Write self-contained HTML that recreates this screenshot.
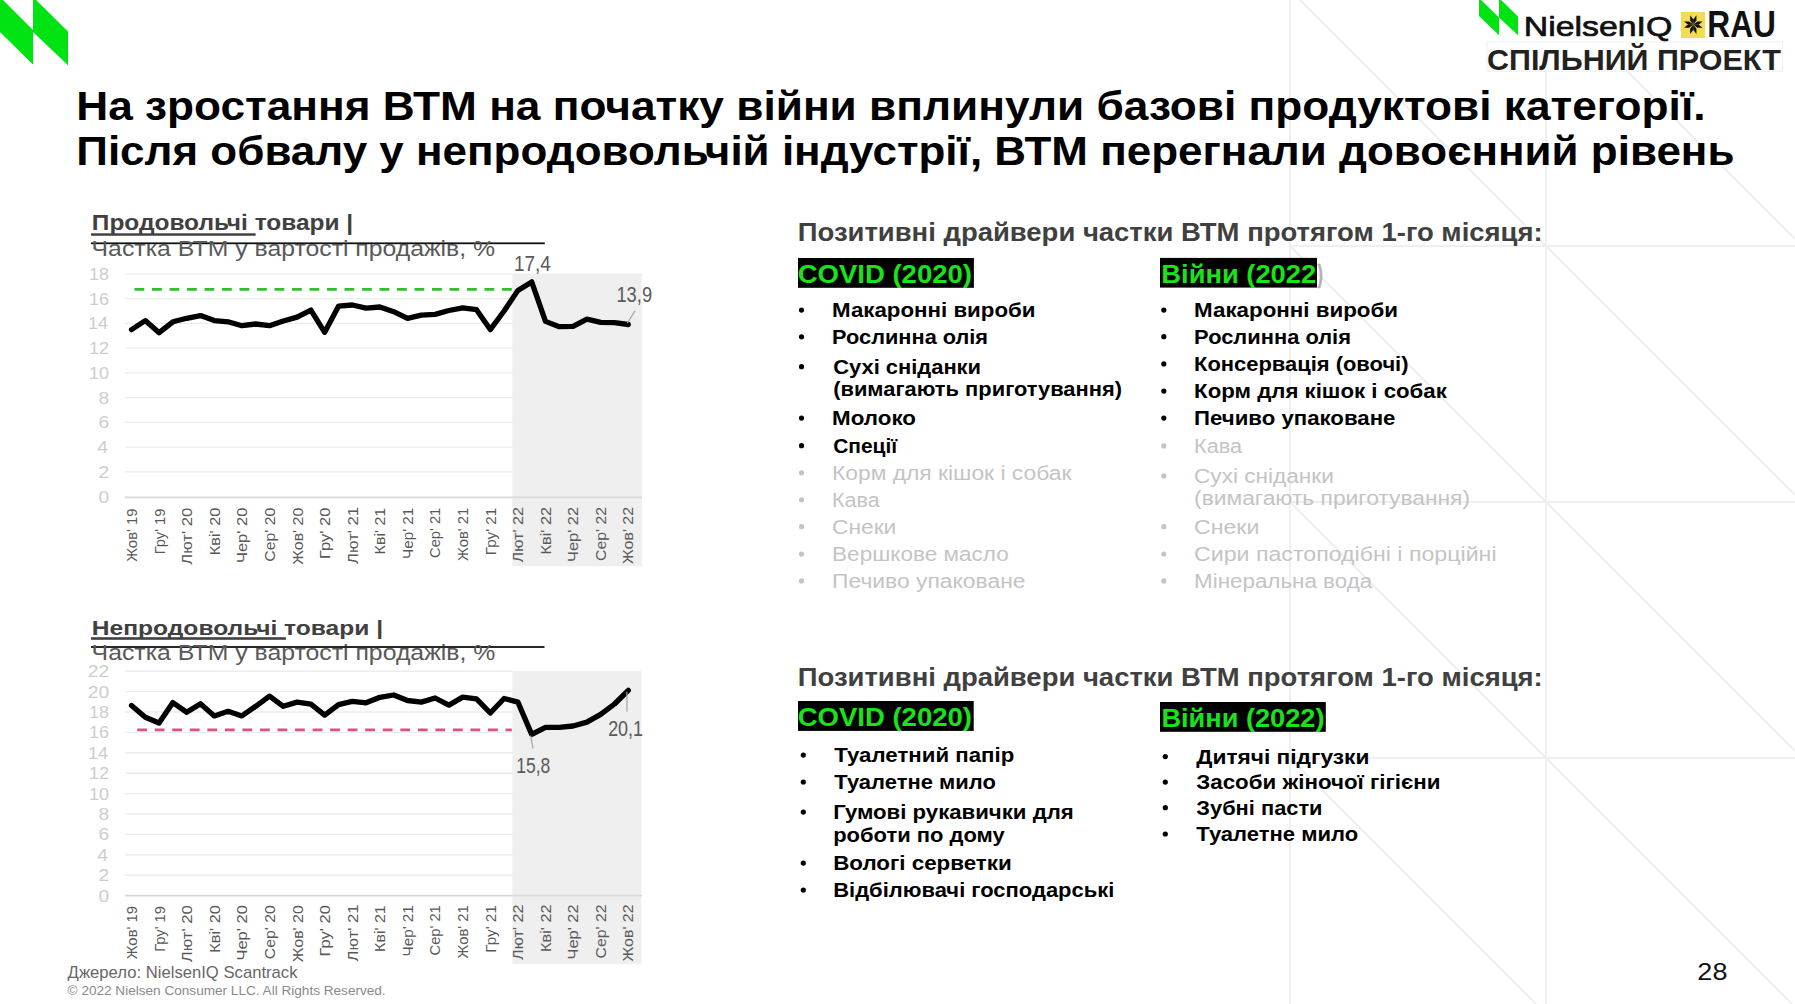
<!DOCTYPE html>
<html><head><meta charset="utf-8"><style>
html,body{margin:0;padding:0;background:#fff;}
body{width:1795px;height:1004px;overflow:hidden;position:relative;font-family:"Liberation Sans",sans-serif;}
svg{position:absolute;left:0;top:0;}
text{font-family:"Liberation Sans",sans-serif;}
</style></head><body>
<svg width="1795" height="1004" viewBox="0 0 1795 1004">
<line x1="1290" y1="0" x2="1290" y2="1004" stroke="#efefef" stroke-width="2"/><line x1="1546" y1="0" x2="1546" y2="1004" stroke="#efefef" stroke-width="2"/><line x1="1290" y1="246" x2="1795" y2="246" stroke="#efefef" stroke-width="2"/><line x1="1290" y1="502" x2="1795" y2="502" stroke="#efefef" stroke-width="2"/><line x1="1290" y1="758" x2="1795" y2="758" stroke="#efefef" stroke-width="2"/><line x1="1290" y1="-10" x2="1546" y2="246" stroke="#efefef" stroke-width="2"/><line x1="1290" y1="246" x2="1546" y2="502" stroke="#efefef" stroke-width="2"/><line x1="1290" y1="502" x2="1546" y2="758" stroke="#efefef" stroke-width="2"/><line x1="1290" y1="758" x2="1546" y2="1014" stroke="#efefef" stroke-width="2"/><line x1="1546" y1="-10" x2="1802" y2="246" stroke="#efefef" stroke-width="2"/><line x1="1546" y1="246" x2="1802" y2="502" stroke="#efefef" stroke-width="2"/><line x1="1546" y1="502" x2="1802" y2="758" stroke="#efefef" stroke-width="2"/><line x1="1546" y1="758" x2="1802" y2="1014" stroke="#efefef" stroke-width="2"/>
<rect x="1472" y="0" width="323" height="71" fill="#fff"/>
<rect x="1487" y="42" width="295.5" height="29.3" fill="#fff" stroke="#f0f0f0" stroke-width="1"/>
<polygon points="0,-3 33,30 33,64.5 0,32" fill="#00e312"/>
<polygon points="33,-3 68,31.5 68,65.3 33,32" fill="#00e312"/>
<polygon points="1479,-2 1499,17.5 1499,35.3 1479,16" fill="#00e312"/>
<polygon points="1499,-2 1518,16.5 1518,35.3 1499,17.5" fill="#00e312"/>
<rect x="1681" y="11.8" width="24" height="26.2" fill="#f3dc55"/>
<g transform="translate(1693.3,24.6)" fill="#111"><polygon points="0,0 3.17,-4.11 3.11,-9.29 -0.06,-5.19"/><polygon points="0,0 0.06,-5.19 -3.11,-9.29 -3.17,-4.11"/><polygon points="0,0 -3.17,4.11 -3.11,9.29 0.06,5.19"/><polygon points="0,0 -0.06,5.19 3.11,9.29 3.17,4.11"/><polygon points="0,0 4.11,3.17 9.29,3.11 5.19,-0.06"/><polygon points="0,0 5.19,0.06 9.29,-3.11 4.11,-3.17"/><polygon points="0,0 -4.11,-3.17 -9.29,-3.11 -5.19,0.06"/><polygon points="0,0 -5.19,-0.06 -9.29,3.11 -4.11,3.17"/></g>
<rect x="512.3" y="273.4" width="129.5" height="292.8" fill="#efefef"/>
<rect x="512.3" y="671" width="129" height="293" fill="#efefef"/>
<line x1="125" y1="497.40" x2="642" y2="497.40" stroke="#d9d9d9" stroke-width="1.8"/><line x1="125" y1="471.85" x2="512.3" y2="471.85" stroke="#ececec" stroke-width="1.4"/><line x1="125" y1="447.10" x2="512.3" y2="447.10" stroke="#ececec" stroke-width="1.4"/><line x1="125" y1="422.35" x2="512.3" y2="422.35" stroke="#ececec" stroke-width="1.4"/><line x1="125" y1="397.60" x2="512.3" y2="397.60" stroke="#ececec" stroke-width="1.4"/><line x1="125" y1="372.85" x2="512.3" y2="372.85" stroke="#ececec" stroke-width="1.4"/><line x1="125" y1="348.10" x2="512.3" y2="348.10" stroke="#ececec" stroke-width="1.4"/><line x1="125" y1="323.35" x2="512.3" y2="323.35" stroke="#ececec" stroke-width="1.4"/><line x1="125" y1="298.60" x2="512.3" y2="298.60" stroke="#ececec" stroke-width="1.4"/><line x1="125" y1="273.85" x2="512.3" y2="273.85" stroke="#ececec" stroke-width="1.4"/>
<line x1="125" y1="895.60" x2="642" y2="895.60" stroke="#d9d9d9" stroke-width="1.8"/><line x1="125" y1="875.20" x2="512.3" y2="875.20" stroke="#ececec" stroke-width="1.4"/><line x1="125" y1="854.80" x2="512.3" y2="854.80" stroke="#ececec" stroke-width="1.4"/><line x1="125" y1="834.40" x2="512.3" y2="834.40" stroke="#ececec" stroke-width="1.4"/><line x1="125" y1="814.00" x2="512.3" y2="814.00" stroke="#ececec" stroke-width="1.4"/><line x1="125" y1="793.60" x2="512.3" y2="793.60" stroke="#ececec" stroke-width="1.4"/><line x1="125" y1="773.20" x2="512.3" y2="773.20" stroke="#ececec" stroke-width="1.4"/><line x1="125" y1="752.80" x2="512.3" y2="752.80" stroke="#ececec" stroke-width="1.4"/><line x1="125" y1="732.40" x2="512.3" y2="732.40" stroke="#ececec" stroke-width="1.4"/><line x1="125" y1="712.00" x2="512.3" y2="712.00" stroke="#ececec" stroke-width="1.4"/><line x1="125" y1="691.60" x2="512.3" y2="691.60" stroke="#ececec" stroke-width="1.4"/><line x1="125" y1="671.20" x2="512.3" y2="671.20" stroke="#ececec" stroke-width="1.4"/>
<line x1="134.5" y1="289.4" x2="511.9" y2="289.4" stroke="#2fbf2f" stroke-width="2.6" stroke-dasharray="9.8 7.70"/>
<line x1="137.2" y1="729.9" x2="511.8" y2="729.9" stroke="#d9508a" stroke-width="2.6" stroke-dasharray="9.8 7.74"/>
<polyline points="131.5,329.6 145.3,320.6 159.1,332.7 172.9,321.8 186.7,318.3 200.5,315.6 214.3,320.6 228.1,321.8 241.9,325.7 255.7,324.0 269.5,325.7 283.3,321.0 297.1,317.1 310.9,310.1 324.7,332.3 338.5,306.2 352.3,305.0 366.1,308.2 379.9,307.0 393.7,311.7 407.5,318.3 421.3,315.2 435.1,314.4 448.9,310.5 462.7,307.8 476.5,309.7 490.3,329.6 504.1,311.0 517.9,290.4 531.7,281.9 545.5,321.4 559.3,326.7 573.1,326.3 586.9,319.1 600.7,322.3 614.5,322.7 628.3,324.5" fill="none" stroke="#000" stroke-width="5.3" stroke-linejoin="round" stroke-linecap="round"/>
<polyline points="131.5,705.5 145.3,717.2 159.1,723.0 172.9,702.6 186.7,712.2 200.5,703.8 214.3,715.9 228.1,711.3 241.9,715.9 255.7,706.3 269.5,696.1 283.3,706.3 297.1,702.1 310.9,704.2 324.7,715.1 338.5,704.6 352.3,701.3 366.1,702.8 379.9,697.3 393.7,695.0 407.5,700.5 421.3,702.1 435.1,698.0 448.9,705.1 462.7,697.1 476.5,698.8 490.3,713.0 504.1,698.5 517.9,702.1 531.7,734.4 545.5,727.3 559.3,727.3 573.1,726.0 586.9,722.1 600.7,714.4 614.5,704.0 628.3,690.4" fill="none" stroke="#000" stroke-width="5.3" stroke-linejoin="round" stroke-linecap="round"/>
<line x1="627.4" y1="323" x2="635" y2="310.9" stroke="#a6a6a6" stroke-width="1.2"/>
<line x1="530.7" y1="735.7" x2="533" y2="748.7" stroke="#a6a6a6" stroke-width="1.2"/>
<line x1="626.9" y1="691.7" x2="626.9" y2="711.8" stroke="#a6a6a6" stroke-width="1.2"/>
<rect x="91" y="233.3" width="164.6" height="2.45" fill="#404040"/>
<rect x="91" y="242.4" width="453.8" height="1.8" fill="#111"/>
<rect x="91" y="637.2" width="194.9" height="2.6" fill="#404040"/>
<rect x="91" y="646.1" width="453.5" height="1.8" fill="#111"/>
<rect x="798" y="258" width="175.9" height="29.8" fill="#000"/>
<rect x="1160" y="257.9" width="157" height="29.7" fill="#000"/>
<rect x="798" y="701" width="175.7" height="29.9" fill="#000"/>
<rect x="1160" y="702" width="165.8" height="29.8" fill="#000"/>
<circle cx="801.5" cy="310.1" r="2.6" fill="#000"/><circle cx="801.5" cy="336.8" r="2.6" fill="#000"/><circle cx="801.5" cy="366.7" r="2.6" fill="#000"/><circle cx="801.5" cy="418.1" r="2.6" fill="#000"/><circle cx="801.5" cy="445.7" r="2.6" fill="#000"/><circle cx="801.5" cy="472.8" r="2.6" fill="#c4c4c4"/><circle cx="801.5" cy="499.8" r="2.6" fill="#c4c4c4"/><circle cx="801.5" cy="526.7" r="2.6" fill="#c4c4c4"/><circle cx="801.5" cy="554.1" r="2.6" fill="#c4c4c4"/><circle cx="801.5" cy="580.9" r="2.6" fill="#c4c4c4"/><circle cx="1163.8" cy="310.1" r="2.6" fill="#000"/><circle cx="1163.8" cy="336.7" r="2.6" fill="#000"/><circle cx="1163.8" cy="363.9" r="2.6" fill="#000"/><circle cx="1163.8" cy="391.1" r="2.6" fill="#000"/><circle cx="1163.8" cy="418.1" r="2.6" fill="#000"/><circle cx="1163.8" cy="445.9" r="2.6" fill="#c4c4c4"/><circle cx="1163.8" cy="475.9" r="2.6" fill="#c4c4c4"/><circle cx="1163.8" cy="526.7" r="2.6" fill="#c4c4c4"/><circle cx="1163.8" cy="554.0" r="2.6" fill="#c4c4c4"/><circle cx="1163.8" cy="580.9" r="2.6" fill="#c4c4c4"/><circle cx="803.3" cy="755.1" r="2.6" fill="#000"/><circle cx="803.3" cy="782.0" r="2.6" fill="#000"/><circle cx="803.3" cy="812.1" r="2.6" fill="#000"/><circle cx="803.3" cy="863.1" r="2.6" fill="#000"/><circle cx="803.3" cy="890.1" r="2.6" fill="#000"/><circle cx="1165.3" cy="756.6" r="2.6" fill="#000"/><circle cx="1165.3" cy="782.1" r="2.6" fill="#000"/><circle cx="1165.3" cy="807.7" r="2.6" fill="#000"/><circle cx="1165.3" cy="834.0" r="2.6" fill="#000"/>
<text x="76.26" y="120.10" font-size="41.28" font-weight="bold" fill="#000" textLength="1629.38" lengthAdjust="spacingAndGlyphs">На зростання ВТМ на початку війни вплинули базові продуктові категорії.</text><text x="76.27" y="165.20" font-size="41.28" font-weight="bold" fill="#000" textLength="1658.19" lengthAdjust="spacingAndGlyphs">Після обвалу у непродовольчій індустрії, ВТМ перегнали довоєнний рівень</text><text x="91.80" y="229.80" font-size="21.22" font-weight="bold" fill="#404040" textLength="261.38" lengthAdjust="spacingAndGlyphs">Продовольчі товари |</text><text x="91.61" y="255.80" font-size="22.82" font-weight="normal" fill="#595959" textLength="403.49" lengthAdjust="spacingAndGlyphs">Частка ВТМ у вартості продажів, %</text><text x="91.78" y="634.70" font-size="21.08" font-weight="bold" fill="#404040" textLength="291.36" lengthAdjust="spacingAndGlyphs">Непродовольчі товари |</text><text x="91.61" y="659.70" font-size="22.82" font-weight="normal" fill="#595959" textLength="403.60" lengthAdjust="spacingAndGlyphs">Частка ВТМ у вартості продажів, %</text><text x="797.74" y="240.90" font-size="26.02" font-weight="bold" fill="#404040" textLength="744.91" lengthAdjust="spacingAndGlyphs">Позитивні драйвери частки ВТМ протягом 1-го місяця:</text><text x="797.74" y="685.90" font-size="26.02" font-weight="bold" fill="#404040" textLength="745.01" lengthAdjust="spacingAndGlyphs">Позитивні драйвери частки ВТМ протягом 1-го місяця:</text><text x="797.74" y="282.80" font-size="25.87" font-weight="bold" fill="#19e319" textLength="174.21" lengthAdjust="spacingAndGlyphs">COVID (2020)</text><text x="1161.39" y="282.90" font-size="25.73" font-weight="bold" fill="#19e319" textLength="154.83" lengthAdjust="spacingAndGlyphs">Війни (2022</text><text x="1317.80" y="282.90" font-size="25.73" font-weight="bold" fill="#b0b0b8" stroke="#b0b0b8" stroke-width="0.7" textLength="5.03" lengthAdjust="spacingAndGlyphs">)</text><text x="797.74" y="725.80" font-size="25.87" font-weight="bold" fill="#19e319" textLength="174.21" lengthAdjust="spacingAndGlyphs">COVID (2020)</text><text x="1161.40" y="727.10" font-size="26.02" font-weight="bold" fill="#19e319" textLength="163.08" lengthAdjust="spacingAndGlyphs">Війни (2022)</text><text x="832.07" y="317.00" font-size="19.77" font-weight="bold" fill="#000" textLength="203.42" lengthAdjust="spacingAndGlyphs">Макаронні вироби</text><text x="832.10" y="343.70" font-size="19.77" font-weight="bold" fill="#000" textLength="155.98" lengthAdjust="spacingAndGlyphs">Рослинна олія</text><text x="833.20" y="373.60" font-size="19.77" font-weight="bold" fill="#000" textLength="147.87" lengthAdjust="spacingAndGlyphs">Сухі сніданки</text><text x="833.20" y="396.40" font-size="19.77" font-weight="bold" fill="#000" textLength="288.84" lengthAdjust="spacingAndGlyphs">(вимагають приготування)</text><text x="832.07" y="425.00" font-size="19.77" font-weight="bold" fill="#000" textLength="83.91" lengthAdjust="spacingAndGlyphs">Молоко</text><text x="833.20" y="452.60" font-size="19.77" font-weight="bold" fill="#000" textLength="64.03" lengthAdjust="spacingAndGlyphs">Спеції</text><text x="832.04" y="479.70" font-size="19.77" font-weight="normal" fill="#c4c4c4" textLength="239.34" lengthAdjust="spacingAndGlyphs">Корм для кішок і собак</text><text x="832.11" y="506.70" font-size="19.77" font-weight="normal" fill="#c4c4c4" textLength="47.47" lengthAdjust="spacingAndGlyphs">Кава</text><text x="832.05" y="533.60" font-size="19.77" font-weight="normal" fill="#c4c4c4" textLength="64.24" lengthAdjust="spacingAndGlyphs">Снеки</text><text x="832.06" y="561.00" font-size="19.77" font-weight="normal" fill="#c4c4c4" textLength="176.72" lengthAdjust="spacingAndGlyphs">Вершкове масло</text><text x="832.04" y="587.80" font-size="19.77" font-weight="normal" fill="#c4c4c4" textLength="193.44" lengthAdjust="spacingAndGlyphs">Печиво упаковане</text><text x="1194.07" y="317.00" font-size="19.77" font-weight="bold" fill="#000" textLength="204.02" lengthAdjust="spacingAndGlyphs">Макаронні вироби</text><text x="1194.09" y="343.60" font-size="19.77" font-weight="bold" fill="#000" textLength="156.89" lengthAdjust="spacingAndGlyphs">Рослинна олія</text><text x="1194.09" y="370.80" font-size="19.77" font-weight="bold" fill="#000" textLength="214.45" lengthAdjust="spacingAndGlyphs">Консервація (овочі)</text><text x="1194.07" y="398.00" font-size="19.77" font-weight="bold" fill="#000" textLength="252.80" lengthAdjust="spacingAndGlyphs">Корм для кішок і собак</text><text x="1194.08" y="425.00" font-size="19.77" font-weight="bold" fill="#000" textLength="201.31" lengthAdjust="spacingAndGlyphs">Печиво упаковане</text><text x="1194.11" y="452.80" font-size="19.77" font-weight="normal" fill="#c4c4c4" textLength="47.88" lengthAdjust="spacingAndGlyphs">Кава</text><text x="1194.06" y="482.80" font-size="19.77" font-weight="normal" fill="#c4c4c4" textLength="139.72" lengthAdjust="spacingAndGlyphs">Сухі сніданки</text><text x="1194.05" y="504.60" font-size="19.77" font-weight="normal" fill="#c4c4c4" textLength="276.02" lengthAdjust="spacingAndGlyphs">(вимагають приготування)</text><text x="1194.03" y="533.60" font-size="19.77" font-weight="normal" fill="#c4c4c4" textLength="65.28" lengthAdjust="spacingAndGlyphs">Снеки</text><text x="1194.03" y="560.90" font-size="19.77" font-weight="normal" fill="#c4c4c4" textLength="302.53" lengthAdjust="spacingAndGlyphs">Сири пастоподібні і порційні</text><text x="1194.07" y="587.80" font-size="19.77" font-weight="normal" fill="#c4c4c4" textLength="178.11" lengthAdjust="spacingAndGlyphs">Мінеральна вода</text><text x="834.30" y="762.00" font-size="19.77" font-weight="bold" fill="#000" textLength="179.97" lengthAdjust="spacingAndGlyphs">Туалетний папір</text><text x="834.30" y="788.90" font-size="19.77" font-weight="bold" fill="#000" textLength="161.57" lengthAdjust="spacingAndGlyphs">Туалетне мило</text><text x="833.18" y="819.00" font-size="19.77" font-weight="bold" fill="#000" textLength="240.61" lengthAdjust="spacingAndGlyphs">Гумові рукавички для</text><text x="833.19" y="841.50" font-size="19.77" font-weight="bold" fill="#000" textLength="171.49" lengthAdjust="spacingAndGlyphs">роботи по дому</text><text x="833.17" y="870.00" font-size="19.77" font-weight="bold" fill="#000" textLength="178.63" lengthAdjust="spacingAndGlyphs">Вологі серветки</text><text x="833.19" y="897.00" font-size="19.77" font-weight="bold" fill="#000" textLength="281.15" lengthAdjust="spacingAndGlyphs">Відбілювачі господарські</text><text x="1196.30" y="763.50" font-size="19.77" font-weight="bold" fill="#000" textLength="173.11" lengthAdjust="spacingAndGlyphs">Дитячі підгузки</text><text x="1196.30" y="789.00" font-size="19.77" font-weight="bold" fill="#000" textLength="244.19" lengthAdjust="spacingAndGlyphs">Засоби жіночої гігієни</text><text x="1196.30" y="814.60" font-size="19.77" font-weight="bold" fill="#000" textLength="126.26" lengthAdjust="spacingAndGlyphs">Зубні пасти</text><text x="1196.30" y="840.90" font-size="19.77" font-weight="bold" fill="#000" textLength="161.87" lengthAdjust="spacingAndGlyphs">Туалетне мило</text><text x="67.60" y="978.10" font-size="15.70" font-weight="normal" fill="#676767" textLength="229.93" lengthAdjust="spacingAndGlyphs">Джерело: NielsenIQ Scantrack</text><text x="67.60" y="995.20" font-size="13.52" font-weight="normal" fill="#8a8a8a" textLength="318.05" lengthAdjust="spacingAndGlyphs">© 2022 Nielsen Consumer LLC. All Rights Reserved.</text><text x="1697.38" y="979.70" font-size="24.13" font-weight="normal" fill="#111" textLength="30.08" lengthAdjust="spacingAndGlyphs">28</text><text x="1523.82" y="36.10" font-size="28.49" font-weight="normal" fill="#111" stroke="#111" stroke-width="0.7" textLength="148.54" lengthAdjust="spacingAndGlyphs">NielsenIQ</text><text x="1707.28" y="37.40" font-size="36.92" font-weight="bold" fill="#111" textLength="68.64" lengthAdjust="spacingAndGlyphs">RAU</text><text x="1487.00" y="69.50" font-size="30.38" font-weight="bold" fill="#222" textLength="293.75" lengthAdjust="spacingAndGlyphs">СПІЛЬНИЙ ПРОЕКТ</text><text x="513.92" y="270.90" font-size="21.51" font-weight="normal" fill="#595959" textLength="36.74" lengthAdjust="spacingAndGlyphs">17,4</text><text x="616.44" y="301.60" font-size="21.22" font-weight="normal" fill="#595959" textLength="35.65" lengthAdjust="spacingAndGlyphs">13,9</text><text x="516.27" y="772.60" font-size="21.22" font-weight="normal" fill="#595959" textLength="34.09" lengthAdjust="spacingAndGlyphs">15,8</text><text x="608.15" y="735.90" font-size="21.22" font-weight="normal" fill="#595959" textLength="34.92" lengthAdjust="spacingAndGlyphs">20,1</text><text x="98.42" y="502.50" font-size="17.15" font-weight="normal" fill="#cdcdcd" textLength="10.68" lengthAdjust="spacingAndGlyphs">0</text><text x="98.42" y="477.75" font-size="17.15" font-weight="normal" fill="#cdcdcd" textLength="10.68" lengthAdjust="spacingAndGlyphs">2</text><text x="97.30" y="453.00" font-size="17.15" font-weight="normal" fill="#cdcdcd" textLength="10.68" lengthAdjust="spacingAndGlyphs">4</text><text x="98.42" y="428.25" font-size="17.15" font-weight="normal" fill="#cdcdcd" textLength="10.68" lengthAdjust="spacingAndGlyphs">6</text><text x="98.42" y="403.50" font-size="17.15" font-weight="normal" fill="#cdcdcd" textLength="10.68" lengthAdjust="spacingAndGlyphs">8</text><text x="89.04" y="378.75" font-size="17.15" font-weight="normal" fill="#cdcdcd" textLength="20.02" lengthAdjust="spacingAndGlyphs">10</text><text x="89.04" y="354.00" font-size="17.15" font-weight="normal" fill="#cdcdcd" textLength="20.02" lengthAdjust="spacingAndGlyphs">12</text><text x="87.99" y="329.25" font-size="17.15" font-weight="normal" fill="#cdcdcd" textLength="20.02" lengthAdjust="spacingAndGlyphs">14</text><text x="89.04" y="304.50" font-size="17.15" font-weight="normal" fill="#cdcdcd" textLength="20.02" lengthAdjust="spacingAndGlyphs">16</text><text x="89.04" y="279.75" font-size="17.15" font-weight="normal" fill="#cdcdcd" textLength="20.02" lengthAdjust="spacingAndGlyphs">18</text><text x="98.42" y="901.50" font-size="17.15" font-weight="normal" fill="#cdcdcd" textLength="10.68" lengthAdjust="spacingAndGlyphs">0</text><text x="98.42" y="881.10" font-size="17.15" font-weight="normal" fill="#cdcdcd" textLength="10.68" lengthAdjust="spacingAndGlyphs">2</text><text x="97.30" y="860.70" font-size="17.15" font-weight="normal" fill="#cdcdcd" textLength="10.68" lengthAdjust="spacingAndGlyphs">4</text><text x="98.42" y="840.30" font-size="17.15" font-weight="normal" fill="#cdcdcd" textLength="10.68" lengthAdjust="spacingAndGlyphs">6</text><text x="98.42" y="819.90" font-size="17.15" font-weight="normal" fill="#cdcdcd" textLength="10.68" lengthAdjust="spacingAndGlyphs">8</text><text x="89.04" y="799.50" font-size="17.15" font-weight="normal" fill="#cdcdcd" textLength="20.02" lengthAdjust="spacingAndGlyphs">10</text><text x="89.04" y="779.10" font-size="17.15" font-weight="normal" fill="#cdcdcd" textLength="20.02" lengthAdjust="spacingAndGlyphs">12</text><text x="87.99" y="758.70" font-size="17.15" font-weight="normal" fill="#cdcdcd" textLength="20.02" lengthAdjust="spacingAndGlyphs">14</text><text x="89.04" y="738.30" font-size="17.15" font-weight="normal" fill="#cdcdcd" textLength="20.02" lengthAdjust="spacingAndGlyphs">16</text><text x="89.04" y="717.90" font-size="17.15" font-weight="normal" fill="#cdcdcd" textLength="20.02" lengthAdjust="spacingAndGlyphs">18</text><text x="87.74" y="697.50" font-size="17.15" font-weight="normal" fill="#cdcdcd" textLength="21.35" lengthAdjust="spacingAndGlyphs">20</text><text x="87.74" y="677.10" font-size="17.15" font-weight="normal" fill="#cdcdcd" textLength="21.35" lengthAdjust="spacingAndGlyphs">22</text>
<text transform="translate(137.20,561.70) rotate(-90)" font-size="15.41" fill="#595959" textLength="53.24" lengthAdjust="spacingAndGlyphs">Жов' 19</text><text transform="translate(164.77,554.36) rotate(-90)" font-size="15.41" fill="#595959" textLength="45.89" lengthAdjust="spacingAndGlyphs">Гру' 19</text><text transform="translate(192.34,564.70) rotate(-90)" font-size="15.41" fill="#595959" textLength="57.01" lengthAdjust="spacingAndGlyphs">Лют' 20</text><text transform="translate(219.91,555.26) rotate(-90)" font-size="15.41" fill="#595959" textLength="47.55" lengthAdjust="spacingAndGlyphs">Кві' 20</text><text transform="translate(247.48,563.07) rotate(-90)" font-size="15.41" fill="#595959" textLength="55.37" lengthAdjust="spacingAndGlyphs">Чер' 20</text><text transform="translate(275.05,561.70) rotate(-90)" font-size="15.41" fill="#595959" textLength="53.97" lengthAdjust="spacingAndGlyphs">Сер' 20</text><text transform="translate(302.62,564.70) rotate(-90)" font-size="15.41" fill="#595959" textLength="56.98" lengthAdjust="spacingAndGlyphs">Жов' 20</text><text transform="translate(330.19,558.97) rotate(-90)" font-size="15.41" fill="#595959" textLength="51.27" lengthAdjust="spacingAndGlyphs">Гру' 20</text><text transform="translate(357.76,563.90) rotate(-90)" font-size="15.41" fill="#595959" textLength="57.01" lengthAdjust="spacingAndGlyphs">Лют' 21</text><text transform="translate(385.33,554.44) rotate(-90)" font-size="15.41" fill="#595959" textLength="46.72" lengthAdjust="spacingAndGlyphs">Кві' 21</text><text transform="translate(412.90,558.89) rotate(-90)" font-size="15.41" fill="#595959" textLength="51.14" lengthAdjust="spacingAndGlyphs">Чер' 21</text><text transform="translate(440.47,557.90) rotate(-90)" font-size="15.41" fill="#595959" textLength="50.13" lengthAdjust="spacingAndGlyphs">Сер' 21</text><text transform="translate(468.04,560.90) rotate(-90)" font-size="15.41" fill="#595959" textLength="53.14" lengthAdjust="spacingAndGlyphs">Жов' 21</text><text transform="translate(495.61,555.19) rotate(-90)" font-size="15.41" fill="#595959" textLength="47.45" lengthAdjust="spacingAndGlyphs">Гру' 21</text><text transform="translate(523.18,562.40) rotate(-90)" font-size="15.41" fill="#595959" textLength="55.49" lengthAdjust="spacingAndGlyphs">Лют' 22</text><text transform="translate(550.75,554.46) rotate(-90)" font-size="15.41" fill="#595959" textLength="47.55" lengthAdjust="spacingAndGlyphs">Кві' 22</text><text transform="translate(578.32,561.96) rotate(-90)" font-size="15.41" fill="#595959" textLength="55.06" lengthAdjust="spacingAndGlyphs">Чер' 22</text><text transform="translate(605.89,560.90) rotate(-90)" font-size="15.41" fill="#595959" textLength="53.97" lengthAdjust="spacingAndGlyphs">Сер' 22</text><text transform="translate(633.46,563.90) rotate(-90)" font-size="15.41" fill="#595959" textLength="56.98" lengthAdjust="spacingAndGlyphs">Жов' 22</text><text transform="translate(137.20,959.20) rotate(-90)" font-size="15.41" fill="#595959" textLength="53.24" lengthAdjust="spacingAndGlyphs">Жов' 19</text><text transform="translate(164.77,951.86) rotate(-90)" font-size="15.41" fill="#595959" textLength="45.89" lengthAdjust="spacingAndGlyphs">Гру' 19</text><text transform="translate(192.34,962.20) rotate(-90)" font-size="15.41" fill="#595959" textLength="57.01" lengthAdjust="spacingAndGlyphs">Лют' 20</text><text transform="translate(219.91,952.76) rotate(-90)" font-size="15.41" fill="#595959" textLength="47.55" lengthAdjust="spacingAndGlyphs">Кві' 20</text><text transform="translate(247.48,960.57) rotate(-90)" font-size="15.41" fill="#595959" textLength="55.37" lengthAdjust="spacingAndGlyphs">Чер' 20</text><text transform="translate(275.05,959.20) rotate(-90)" font-size="15.41" fill="#595959" textLength="53.97" lengthAdjust="spacingAndGlyphs">Сер' 20</text><text transform="translate(302.62,962.20) rotate(-90)" font-size="15.41" fill="#595959" textLength="56.98" lengthAdjust="spacingAndGlyphs">Жов' 20</text><text transform="translate(330.19,956.47) rotate(-90)" font-size="15.41" fill="#595959" textLength="51.27" lengthAdjust="spacingAndGlyphs">Гру' 20</text><text transform="translate(357.76,961.40) rotate(-90)" font-size="15.41" fill="#595959" textLength="57.01" lengthAdjust="spacingAndGlyphs">Лют' 21</text><text transform="translate(385.33,951.94) rotate(-90)" font-size="15.41" fill="#595959" textLength="46.72" lengthAdjust="spacingAndGlyphs">Кві' 21</text><text transform="translate(412.90,956.39) rotate(-90)" font-size="15.41" fill="#595959" textLength="51.14" lengthAdjust="spacingAndGlyphs">Чер' 21</text><text transform="translate(440.47,955.40) rotate(-90)" font-size="15.41" fill="#595959" textLength="50.13" lengthAdjust="spacingAndGlyphs">Сер' 21</text><text transform="translate(468.04,958.40) rotate(-90)" font-size="15.41" fill="#595959" textLength="53.14" lengthAdjust="spacingAndGlyphs">Жов' 21</text><text transform="translate(495.61,952.69) rotate(-90)" font-size="15.41" fill="#595959" textLength="47.45" lengthAdjust="spacingAndGlyphs">Гру' 21</text><text transform="translate(523.18,959.90) rotate(-90)" font-size="15.41" fill="#595959" textLength="55.49" lengthAdjust="spacingAndGlyphs">Лют' 22</text><text transform="translate(550.75,951.96) rotate(-90)" font-size="15.41" fill="#595959" textLength="47.55" lengthAdjust="spacingAndGlyphs">Кві' 22</text><text transform="translate(578.32,959.46) rotate(-90)" font-size="15.41" fill="#595959" textLength="55.06" lengthAdjust="spacingAndGlyphs">Чер' 22</text><text transform="translate(605.89,958.40) rotate(-90)" font-size="15.41" fill="#595959" textLength="53.97" lengthAdjust="spacingAndGlyphs">Сер' 22</text><text transform="translate(633.46,961.40) rotate(-90)" font-size="15.41" fill="#595959" textLength="56.98" lengthAdjust="spacingAndGlyphs">Жов' 22</text>
</svg>
</body></html>
